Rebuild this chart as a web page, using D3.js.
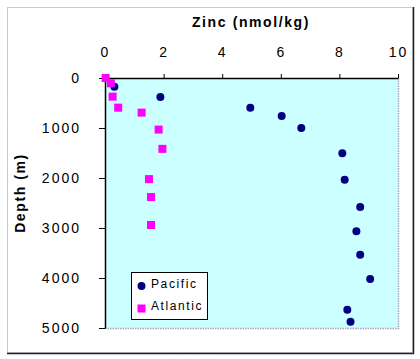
<!DOCTYPE html>
<html><head><meta charset="utf-8">
<script src="https://cdn.jsdelivr.net/npm/d3@7"></script>
<style>body{margin:0;background:#fff}svg{display:block}text{font-family:"Liberation Sans",Arial,sans-serif}</style>
</head><body><svg id="c" width="420" height="359"></svg>
<script>
const pacificZinc  = [0.32, 1.89, 4.96, 6.03, 6.70, 8.10, 8.18, 8.71, 8.58, 8.71, 9.05, 8.27, 8.38];
const pacificDepth = [174, 380, 593, 758, 998, 1503, 2036, 2581, 3067, 3533, 4018, 4637, 4876];
const atlanticZinc  = [0.02, 0.20, 0.26, 0.45, 1.25, 1.83, 1.96, 1.50, 1.57, 1.57];
const atlanticDepth = [0, 106, 373, 593, 692, 1032, 1417, 2022, 2381, 2940];
const xTicks = [0, 2, 4, 6, 8, 10];
const yTicks = [0, 1000, 2000, 3000, 4000, 5000];

const svg = d3.select("#c");
const L = 105, R = 398, T = 78, B = 328;
const x = d3.scaleLinear().domain([0, 10]).range([L, R]);
const y = d3.scaleLinear().domain([0, 5000]).range([T, B]);

// outer frame
svg.append("rect").attr("x", 7.5).attr("y", 7.5).attr("width", 405).attr("height", 345)
  .attr("fill", "none").attr("stroke", "#8a9aa0").attr("stroke-dasharray", "1,1");
svg.append("path").attr("d", "M413.5,7 V353.5 H7").attr("fill", "none").attr("stroke", "#222").attr("stroke-width", 1.5);

// plot area
svg.append("rect").attr("x", L).attr("y", T).attr("width", R - L).attr("height", B - T).attr("fill", "#ccffff");
svg.append("path").attr("d", `M${L},${B+0.5} H${R+0.5} V${T}`).attr("fill", "none")
  .attr("stroke", "#9aa8b8").attr("stroke-width", 1.5).attr("stroke-dasharray", "1.5,1");

// axes
const xa = svg.append("g").attr("transform", `translate(0,${T})`)
  .call(d3.axisTop(x).tickValues(xTicks).tickSize(4).tickSizeOuter(0).tickPadding(17));
const ya = svg.append("g").attr("transform", `translate(${L},0)`)
  .call(d3.axisLeft(y).tickValues(yTicks).tickSize(6).tickSizeOuter(0).tickPadding(18).tickFormat(d3.format("d")));
[xa, ya].forEach(g => {
  g.select(".domain").attr("stroke", "#000").attr("stroke-width", 1.5);
  g.selectAll(".tick line").attr("stroke", "#000");
  g.selectAll("text").attr("font-size", 14).attr("fill", "#000").attr("letter-spacing", "2px")
   .attr("font-family", '"Liberation Sans",Arial,sans-serif');
});
ya.selectAll("text").attr("dy", "0.35em");

// titles
svg.append("text").attr("x", 251).attr("y", 27).attr("text-anchor", "middle")
  .attr("font-size", 14).attr("font-weight", "bold").attr("letter-spacing", "1.6px").text("Zinc (nmol/kg)");
svg.append("text").attr("transform", "translate(25,193) rotate(-90)").attr("text-anchor", "middle")
  .attr("font-size", 14).attr("font-weight", "bold").attr("letter-spacing", "1.6px").text("Depth (m)");

// points
const diamond = d3.symbol().type(d3.symbolCircle).size(50);
svg.append("g").selectAll("path").data(pacificZinc.map((v, i) => [v, pacificDepth[i]])).join("path")
  .attr("transform", d => `translate(${x(d[0])},${y(d[1])})`).attr("d", diamond).attr("fill", "#000080");
svg.append("g").selectAll("rect").data(atlanticZinc.map((v, i) => [v, atlanticDepth[i]])).join("rect")
  .attr("x", d => x(d[0]) - 4).attr("y", d => y(d[1]) - 4).attr("width", 8).attr("height", 8).attr("fill", "#ff00ff");

// legend
const lg = svg.append("g");
lg.append("rect").attr("x", 131.5).attr("y", 272.5).attr("width", 76).attr("height", 47)
  .attr("fill", "#fff").attr("stroke", "#000");
lg.append("path").attr("transform", "translate(141.5,286)").attr("d", diamond).attr("fill", "#000080");
lg.append("rect").attr("x", 137.5).attr("y", 304.5).attr("width", 8).attr("height", 8).attr("fill", "#ff00ff");
lg.append("text").attr("x", 151).attr("y", 288).attr("font-size", 12).attr("letter-spacing", "1.6px").text("Pacific");
lg.append("text").attr("x", 151).attr("y", 310).attr("font-size", 12).attr("letter-spacing", "1.6px").text("Atlantic");
</script></body></html>
